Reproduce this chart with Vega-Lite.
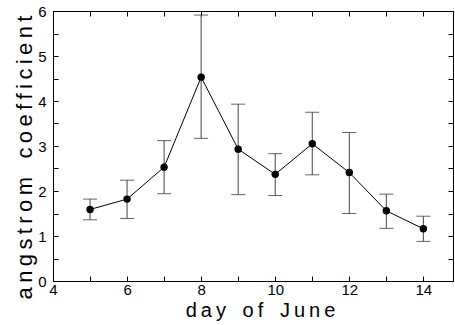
{
  "$schema": "https://vega.github.io/schema/vega-lite/v6.json",
  "width": 400,
  "height": 270,
  "autosize": "none",
  "padding": {"left": 53, "top": 11, "right": 2, "bottom": 44},
  "background": "white",
  "config": {
    "view": {"stroke": "black", "strokeWidth": 1},
    "axis": {
      "domainColor": "black",
      "tickColor": "black",
      "labelColor": "black",
      "titleColor": "black",
      "labelFont": "Liberation Sans",
      "titleFont": "Liberation Sans",
      "titleFontWeight": "normal",
      "grid": false
    }
  },
  "data": {
    "values": [
      {"day": 5, "val": 1.59, "lo": 1.36, "hi": 1.82},
      {"day": 6, "val": 1.82, "lo": 1.39, "hi": 2.24},
      {"day": 7, "val": 2.53, "lo": 1.94, "hi": 3.12},
      {"day": 8, "val": 4.53, "lo": 3.17, "hi": 5.91},
      {"day": 9, "val": 2.93, "lo": 1.92, "hi": 3.93},
      {"day": 10, "val": 2.37, "lo": 1.9, "hi": 2.83},
      {"day": 11, "val": 3.05, "lo": 2.36, "hi": 3.75},
      {"day": 12, "val": 2.41, "lo": 1.5, "hi": 3.3},
      {"day": 13, "val": 1.56, "lo": 1.17, "hi": 1.93},
      {"day": 14, "val": 1.16, "lo": 0.88, "hi": 1.44}
    ]
  },
  "resolve": {"axis": {"x": "independent", "y": "independent"}},
  "layer": [
    {
      "mark": {"type": "errorbar", "ticks": {"size": 14, "color": "#222"}, "rule": {"color": "#444", "strokeWidth": 1}},
      "encoding": {
        "x": {
          "field": "day", "type": "quantitative",
          "scale": {"domain": [4, 14.8], "nice": false, "zero": false},
          "axis": {
            "orient": "bottom",
            "title": "d\u2009a\u2009y\u00a0\u00a0\u00a0o\u2009f\u00a0\u00a0\u00a0J\u2009u\u2009n\u2009e",
            "titleFontSize": 20,
            "titleX": 207,
            "titleY": 35,
            "titleBaseline": "alphabetic",
            "titleLimit": 400,
            "values": [4, 5, 6, 7, 8, 9, 10, 11, 12, 13, 14],
            "labelExpr": "datum.value % 2 == 0 ? format(datum.value, 'd') : ''",
            "labelFontSize": 15,
            "tickSize": -5,
            "labelPadding": 6,
            "labelFlush": false
          }
        },
        "y": {
          "field": "lo", "type": "quantitative",
          "scale": {"domain": [0, 6], "nice": false},
          "axis": {
            "orient": "left",
            "title": "a\u2009n\u2009g\u2009s\u2009t\u2009r\u2009o\u2009m\u00a0\u00a0\u00a0c\u2009o\u2009e\u2009f\u2009f\u2009i\u2009c\u2009i\u2009e\u2009n\u2009t",
            "titleFontSize": 22,
            "titleX": -22,
            "titleY": 146,
            "titleBaseline": "alphabetic",
            "titleLimit": 400,
            "values": [0, 0.5, 1, 1.5, 2, 2.5, 3, 3.5, 4, 4.5, 5, 5.5, 6],
            "labelExpr": "datum.value % 1 == 0 ? format(datum.value, 'd') : ''",
            "labelFontSize": 15,
            "tickSize": -5,
            "labelPadding": 12
          }
        },
        "y2": {"field": "hi"}
      }
    },
    {
      "mark": {"type": "line", "color": "black", "strokeWidth": 1},
      "encoding": {
        "x": {"field": "day", "type": "quantitative", "axis": null},
        "y": {"field": "val", "type": "quantitative", "axis": null}
      }
    },
    {
      "mark": {"type": "point", "filled": true, "color": "black", "opacity": 1, "size": 55},
      "encoding": {
        "x": {"field": "day", "type": "quantitative", "axis": null},
        "y": {"field": "val", "type": "quantitative", "axis": null}
      }
    },
    {
      "mark": {"type": "point", "opacity": 0},
      "encoding": {
        "x": {
          "field": "day", "type": "quantitative",
          "axis": {"orient": "top", "title": null, "labels": false, "tickSize": -5,
                   "values": [4, 5, 6, 7, 8, 9, 10, 11, 12, 13, 14]}
        },
        "y": {
          "field": "val", "type": "quantitative",
          "axis": {"orient": "right", "title": null, "labels": false, "tickSize": -5,
                   "values": [0, 0.5, 1, 1.5, 2, 2.5, 3, 3.5, 4, 4.5, 5, 5.5, 6]}
        }
      }
    }
  ]
}
